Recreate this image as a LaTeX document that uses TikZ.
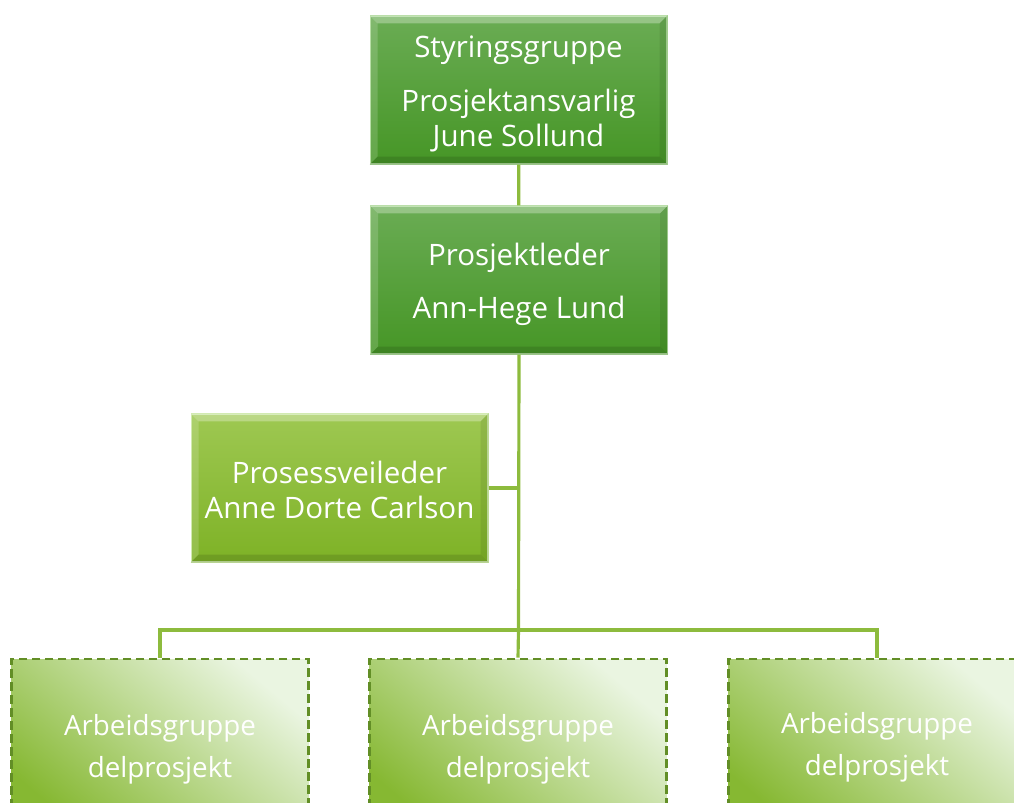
\documentclass[tikz,border=0pt]{standalone}
\usepackage{fontspec}
\setmainfont{Open Sans}
\usetikzlibrary{positioning}
\usetikzlibrary{calc}
\definecolor{darkgreen}{RGB}{106,172,84}
\definecolor{darkgreenlow}{RGB}{70,150,38}
\definecolor{darkgreenrim}{RGB}{170,215,150}
\definecolor{limegreen}{RGB}{158,200,82}
\definecolor{limegreenlow}{RGB}{126,178,38}
\definecolor{limegreenrim}{RGB}{200,230,160}
\definecolor{palegreen}{RGB}{234,245,225}
\definecolor{midgreen}{RGB}{178,212,128}
\definecolor{grassgreen}{RGB}{134,184,50}
\definecolor{dashgreen}{RGB}{98,142,38}
\definecolor{linkgreen}{RGB}{141,187,61}
\tikzset{box/.style = {rectangle, inner sep = 0pt,
                       minimum width = 5.94cm, minimum height = 2.96cm},
         boxtext/.style = {inner sep = 0pt, align = center, text = white,
                           font = \fontsize{16.8}{20}\selectfont},
         leadbox/.style = {box, top color = darkgreen, bottom color = darkgreenlow,
                           draw = darkgreenrim, line width = 0.6pt},
         advisorbox/.style = {box, top color = limegreen, bottom color = limegreenlow,
                              draw = limegreenrim, line width = 0.6pt},
         groupbox/.style = {box, minimum height = 3.52cm,
                            top color = palegreen, middle color = midgreen,
                            bottom color = grassgreen, shading angle = -40,
                            draw = dashgreen, dash pattern = on 5pt off 2.4pt,
                            line width = 1.5pt},
         grouptext/.style = {boxtext, font = \fontsize{15.8}{23.8}\selectfont},
         link/.style = {draw = linkgreen, line width = 1.8pt}}
\newcommand{\bevelbox}[1]{%
  \fill [white, opacity = 0.3] (#1.north west) -- (#1.north east)
        -- ($(#1.north east)+(-8,8)$) -- ($(#1.north west)+(8,8)$) -- cycle;
  \fill [white, opacity = 0.16] (#1.north west) -- ($(#1.north west)+(8,8)$)
        -- ($(#1.south west)+(8,-8)$) -- (#1.south west) -- cycle;
  \fill [black, opacity = 0.12] (#1.south west) -- (#1.south east)
        -- ($(#1.south east)+(-8,-8)$) -- ($(#1.south west)+(8,-8)$) -- cycle;
  \fill [black, opacity = 0.08] (#1.north east) -- (#1.south east)
        -- ($(#1.south east)+(-8,-8)$) -- ($(#1.north east)+(-8,8)$) -- cycle;}
\begin{document}
\begin{tikzpicture}[x = 0.02cm, y = -0.02cm]
      \useasboundingbox (0, 0) rectangle (1014, 803);

      \node [leadbox] (steering) at (518.5, 90) {};
      \node [leadbox] (leader) at (519, 280) {};
      \node [advisorbox] (advisor) at (339.5, 488) {};
      \bevelbox{steering}
      \bevelbox{leader}
      \bevelbox{advisor}
      \node [boxtext] (steeringText) at ($(steering)+(0,4)$) {Styringsgruppe\\[11pt] Prosjektansvarlig\\ June Sollund};
      \node [boxtext] (leaderText) at ($(leader)+(0,4)$) {Prosjektleder\\[10pt] Ann-Hege Lund};
      \node [boxtext] (advisorText) at ($(advisor)+(0,2)$) {Prosessveileder\\ Anne Dorte Carlson};

      \node [groupbox] (groupA) at (160, 747) {};
      \node [groupbox] (groupB) at (518, 747) {};
      \node [groupbox] (groupC) at (877, 747) {};
      \node [grouptext] (groupAText) at ($(groupA)+(0,2)$) {Arbeidsgruppe\\ delprosjekt};
      \node [grouptext] (groupBText) at ($(groupB)+(0,2)$) {Arbeidsgruppe\\ delprosjekt};
      \node [grouptext] (groupCText) at ($(groupC)+(0,0)$) {Arbeidsgruppe\\ delprosjekt};

      \coordinate (hub) at (518.5, 630);
      \draw [link] (steering) -- (leader);
      \draw [link] (leader.south) -- (hub);
      \draw [link] (advisor.east) -- (advisor.east -| hub);
      \draw [link] (hub) -| (groupA.north);
      \draw [link] (hub) -| (groupC.north);
      \draw [link] (hub) -- (groupB.north);
\end{tikzpicture}
\end{document}
